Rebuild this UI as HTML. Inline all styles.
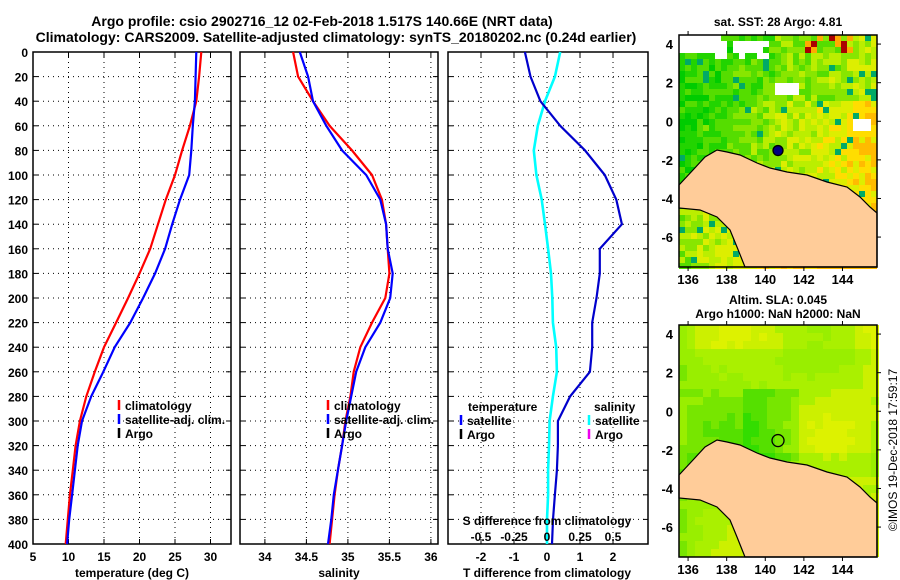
<!DOCTYPE html>
<html><head><meta charset="utf-8"><style>
body{margin:0;background:#fff;}
svg{display:block;font-family:"Liberation Sans",sans-serif;font-weight:bold;}
</style></head><body>
<svg id="s" width="900" height="580" viewBox="0 0 900 580" xmlns="http://www.w3.org/2000/svg">
<text x="322" y="26" font-size="14" text-anchor="middle">Argo profile: csio 2902716_12 02-Feb-2018 1.517S 140.66E (NRT data)</text>
<text x="336" y="42" font-size="14" text-anchor="middle">Climatology: CARS2009. Satellite-adjusted climatology: synTS_20180202.nc (0.24d earlier)</text>
<g id="charts"></g>
<g id="maps"></g>
<text transform="translate(897,450) rotate(-90)" font-size="12" font-weight="normal" text-anchor="middle">©IMOS 19-Dec-2018 17:59:17</text>
</svg>
<script>
// ---- data ----
const depths=[0,20,40,60,80,100,120,140,160,180,200,220,240,260,280,300,320,340,360,380,400];
const tempClim=[28.7,28.4,28,27.1,26,25,23.7,22.6,21.5,20,18.4,16.7,15,13.7,12.5,11.6,11,10.6,10.2,9.9,9.6];
const tempSat=[28,27.9,27.8,27.5,27.3,27,25.7,24.6,23.6,22.2,20.5,18.7,16.5,14.9,13.2,11.9,11.3,10.9,10.5,10.1,9.8];
const salClim=[34.34,34.4,34.58,34.78,35.05,35.29,35.41,35.46,35.48,35.5,35.45,35.29,35.15,35.07,35.03,34.97,34.93,34.88,34.84,34.81,34.78];
const salSat=[34.42,34.52,34.58,34.74,34.93,35.22,35.39,35.46,35.48,35.54,35.51,35.39,35.21,35.1,35.04,34.98,34.93,34.88,34.83,34.8,34.76];
const tDiff=[-0.67,-0.5,-0.2,0.4,1.15,1.75,2.1,2.27,1.6,1.6,1.5,1.37,1.37,1.3,0.7,0.33,0.33,0.3,0.24,0.18,0.15];
const sDiff=[0.1,0.06,-0.015,-0.07,-0.1,-0.08,-0.04,-0.015,0.008,0.03,0.04,0.045,0.07,0.075,0.045,0.02,0.015,0.008,0.008,0.0,0.0];
const tTicks=[5,10,15,20,25,30];
const sTicks=[34,34.5,35,35.5,36];
const dTicks=[-2,-1,0,1,2];
const sdTicks=[-0.5,-0.25,0,0.25,0.5];
const sdLabels=["-0.5","-0.25","0","0.25","0.5"];
const depthTicks=[0,20,40,60,80,100,120,140,160,180,200,220,240,260,280,300,320,340,360,380,400];
const lonTicks=[136,138,140,142,144];
const latTicks=[4,2,0,-2,-4,-6];

const NS='http://www.w3.org/2000/svg';
function mk(t,a,p){const e=document.createElementNS(NS,t);for(const k in a)e.setAttribute(k,a[k]);(p||document.getElementById('charts')).appendChild(e);return e;}
const top0=52,bot=544;
const yD=d=>top0+(bot-top0)*d/400;
function panel(name,x0,x1,xmin,xmax,ticks,labels){
  const g=mk('g',{});
  
  
  const xs=v=>x0+(x1-x0)*(v-xmin)/(xmax-xmin);
  depthTicks.forEach(d=>{ if(d>0&&d<400){const l=mk('line',{x1:x0,x2:x1,y1:yD(d),y2:yD(d),stroke:'#000','stroke-width':1,'stroke-dasharray':'1,4'},g);}
    mk('line',{x1:x0,x2:x0+5,y1:yD(d),y2:yD(d),stroke:'#000'},g);mk('line',{x1:x1-5,x2:x1,y1:yD(d),y2:yD(d),stroke:'#000'},g);});
  ticks.forEach((t,i)=>{const x=xs(t);
    const l=mk('line',{x1:x,x2:x,y1:top0,y2:bot,stroke:'#000','stroke-dasharray':'1,4'},g);
    
    mk('line',{x1:x,x2:x,y1:bot-5,y2:bot,stroke:'#000'},g);mk('line',{x1:x,x2:x,y1:top0,y2:top0+5,stroke:'#000'},g);
    if(labels){const tx=mk('text',{x:x,y:561,'font-size':12,'text-anchor':'middle'},g);tx.textContent=labels[i];
    }
  });
  const r=mk('rect',{x:x0,y:top0,width:x1-x0,height:bot-top0,fill:'none',stroke:'#000','stroke-width':1.5},g);
  
  return {g,xs};
}
function line(p,vals,col,name,w){
  const pts=vals.map((v,i)=>p.xs(v).toFixed(1)+','+yD(depths[i]).toFixed(1)).join(' ');
  const l=mk('polyline',{points:pts,fill:'none',stroke:col,'stroke-width':w||2.2},p.g);
  
  
}
function txt(s,x,y,opts,name){const t=mk('text',Object.assign({x:x,y:y,'font-size':12},opts||{}));t.textContent=s;
  return t;}
// panel 1
const p1=panel('temperature-panel',33,231,5,5+198/7.1,tTicks,tTicks.map(String));
line(p1,tempClim,'#f00','temp-climatology-line');
line(p1,tempSat,'#00f','temp-satellite-line');
depthTicks.forEach(d=>txt(String(d),28,yD(d)+5,{'text-anchor':'end'},'y-tick-label'));
txt('temperature (deg C)',132,577,{'text-anchor':'middle'},'x-axis-title-temperature');
// panel 2
const p2=panel('salinity-panel',240,438,33.7,33.7+198/83,sTicks,['34','34.5','35','35.5','36']);
line(p2,salClim,'#f00','sal-climatology-line');
line(p2,salSat,'#00f','sal-satellite-line');
txt('salinity',339,577,{'text-anchor':'middle'},'x-axis-title-salinity');
// panel 3
const p3=panel('difference-panel',448,648,-3,3.06,dTicks,dTicks.map(String));
const p3s={g:p3.g,xs:v=>547+132*v};
line(p3s,sDiff,'#0ff','salinity-diff-line',2.6);
line(p3,tDiff,'#00c','temp-diff-line');
sdTicks.forEach((t,i)=>txt(sdLabels[i],p3s.xs(t),541,{'text-anchor':'middle'},'s-tick-label'));
txt('S difference from climatology',547,525,{'text-anchor':'middle'},'s-axis-title');
txt('T difference from climatology',547,577,{'text-anchor':'middle'},'x-axis-title-tdiff');
// legends
function leg(x,y,col,s,name){const m=mk('line',{x1:x,x2:x,y1:y-6,y2:y+4,stroke:col,'stroke-width':2.5});
  
  txt(s,x+6,y+4,{},name);}
leg(119,406,'#f00','climatology','legend-climatology');
leg(119,420,'#00f','satellite-adj. clim.','legend-satellite-adj');
leg(119,434,'#000','Argo','legend-argo');
leg(328,406,'#f00','climatology','legend2-climatology');
leg(328,420,'#00f','satellite-adj. clim.','legend2-satellite-adj');
leg(328,434,'#000','Argo','legend2-argo');
txt('temperature',468,411,{},'legend-temperature-heading');
leg(461,421,'#00f','satellite','legend-t-satellite');
leg(461,435,'#000','Argo','legend-t-argo');
txt('salinity',594,411,{},'legend-salinity-heading');
leg(589,421,'#0ff','satellite','legend-s-satellite');
leg(589,435,'#e0e','Argo','legend-s-argo');

// ---- maps ----
const mg=document.getElementById('maps');
const coast=[[0,150],[14,135],[26,122],[38,115],[48,117],[61,120],[78,128],[91,133],[108,137],[128,140],[148,147],[168,152],[181,162],[191,172],[198,178],[198,232],[66,232],[58,212],[51,195],[38,182],[21,175],[0,173]];
function hash(i,j){let h=(i*374761393+j*668265263)^0x5bd1e995;h=(h^(h>>>13))*1274126177;return ((h^(h>>>16))>>>0)/4294967296;}
function map(ox,oy,name,kind){
  const g=mk('g',{},mg);
  const W=198,H=232,c=kind==='sst'?6:8;
  for(let j=0;j<H;j+=c)for(let i=0;i<W;i+=c){
    let col;const r=hash(i/c+(kind==='sst'?0:50),j/c);
    if(kind==='sst'){
      const east=i/W;
      const pal=['#00cc00','#22d400','#55dd00','#88e600','#bbee00','#ddee00','#ffdd00','#ffbb00'];
      let v=0.35*r+0.75*east*(j>60?1.1:0.7)+(j>170?0.35:0);
      let k=Math.floor(v*7);if(k<0)k=0;if(k>7)k=7;
      col=pal[k];
      if(r>0.96)col='#00aa66';
      if(j<14&&i>120&&i<170&&r>0.4)col=r>0.7?'#aa0000':'#ffaa00';
      if((j<14&&i<40)||(j>=6&&j<20&&i>=36&&i<90&&i!==48&&r>0.2)||(j>45&&j<60&&i>90&&i<120)||(j>80&&j<95&&i>170&&i<190))col='#fff';
    }else{
      const v=0.55+0.25*Math.sin(i/30)*Math.cos(j/35)+0.3*(i/W-0.5)-0.25*(j<130&&j>60&&i>60&&i<120?1:0)+0.08*r-0.15*(j>120&&j<150?1:0)+0.15*(j<20?1:0);
      const pal=['#33dd00','#55e000','#77e600','#99ee00','#aaf000','#ccf000','#ddf200'];
      col=pal[Math.max(0,Math.min(6,Math.floor(v*7)))];
    }
    mk('rect',{x:ox+i,y:oy+j,width:c,height:c,fill:col},g);
  }
  const pg=mk('polygon',{points:coast.map(p=>(ox+p[0])+','+(oy+p[1])).join(' '),fill:'#ffcc99',stroke:'#000','stroke-width':1.2},g);
  
  const fr=mk('rect',{x:ox,y:oy,width:W,height:H,fill:'none',stroke:'#000','stroke-width':1.5},g);
  
  const lx=v=>ox+(v-135.53)*19.3, ly=v=>oy+(4.47-v)*19.3;
  lonTicks.forEach(v=>{mk('line',{x1:lx(v),x2:lx(v),y1:oy+H,y2:oy+H+4,stroke:'#000'},g);mk('line',{x1:lx(v),x2:lx(v),y1:oy-4,y2:oy,stroke:'#000'},g);
    txt(String(v),lx(v),oy+H+17,{'text-anchor':'middle','font-size':13},'lon-tick-label');});
  latTicks.forEach(v=>{mk('line',{x1:ox+W,x2:ox+W+4,y1:ly(v),y2:ly(v),stroke:'#000'},g);
    txt(String(v),673,ly(v)+5,{'text-anchor':'end','font-size':13},'lat-tick-label');});
  const m=mk('circle',{cx:lx(140.66),cy:ly(-1.517),r:kind==='sst'?5:6,fill:kind==='sst'?'#000080':'none',stroke:'#000','stroke-width':1.3},g);
  
}
map(679,35,'sst-map','sst');
map(679,325,'sla-map','sla');
txt('sat. SST: 28 Argo: 4.81',778,26,{'text-anchor':'middle'},'sst-map-title');
txt('Altim. SLA: 0.045',778,304,{'text-anchor':'middle'},'sla-map-title');
txt('Argo h1000: NaN h2000: NaN',778,318,{'text-anchor':'middle'},'sla-map-subtitle');
</script>
</body></html>
